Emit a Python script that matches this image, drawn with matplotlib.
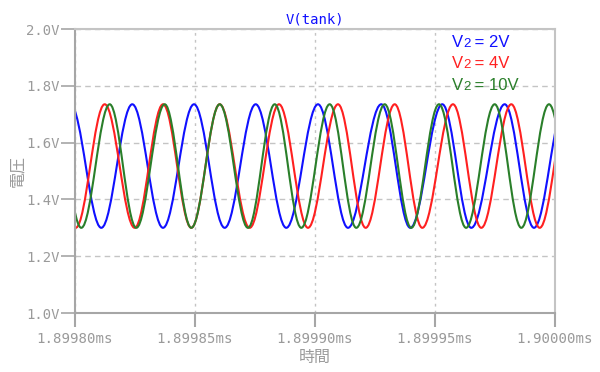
import matplotlib
matplotlib.use("Agg")
import matplotlib.pyplot as plt
from matplotlib.path import Path
from matplotlib.patches import PathPatch
from matplotlib.ticker import FuncFormatter

# time axis: ns after 1.89980 ms
T0_MS = 1.89980

# turning points (peak / trough) of each trace
t_2v = [-1.96, 10.96, 23.87, 36.67, 49.58, 62.37, 75.29, 88.04, 101.25,
        113.75, 127.62, 139.71, 153.04, 165.12, 179.04, 191.25, 204.17]
v_2v = [1.735, 1.300, 1.735, 1.300, 1.735, 1.300, 1.735, 1.300, 1.735,
        1.300, 1.735, 1.300, 1.735, 1.300, 1.735, 1.300, 1.735]

t_4v = [-11.79, 0.29, 12.37, 24.87, 36.67, 48.46, 60.29, 72.79, 85.00, 97.08,
        109.58, 121.12, 133.21, 144.71, 157.50, 169.29, 181.79, 193.62, 205.71]
v_4v = [1.735, 1.300, 1.735, 1.300, 1.735, 1.300, 1.735, 1.300, 1.735, 1.300,
        1.735, 1.300, 1.735, 1.300, 1.735, 1.300, 1.735, 1.300, 1.735]

t_10v = [-8.83, 2.62, 14.46, 25.54, 37.37, 48.46, 60.29, 72.08, 83.21, 94.29,
         106.12, 117.21, 129.04, 140.12, 151.67, 162.96, 174.87, 185.96,
         197.50, 208.96]
v_10v = [1.735, 1.300, 1.735, 1.300, 1.735, 1.300, 1.735, 1.300, 1.735, 1.300,
         1.735, 1.300, 1.735, 1.300, 1.735, 1.300, 1.735, 1.300, 1.735, 1.300]

x_ticks = [0, 50, 100, 150, 200]
y_ticks = [1.0, 1.2, 1.4, 1.6, 1.8, 2.0]

# legend pieces: "V" + small "2" + rest
lab_rest = [" = 2V", " = 4V", " = 10V"]
colors = ["#1010ff", "#ff2020", "#2a7f2a"]

GRAY = "#a6a6a6"


def wave_path(t, v):
    # smooth half-waves between turning points (bezier, flat at the extrema)
    k = 0.364
    verts = [(t[0], v[0])]
    codes = [Path.MOVETO]
    for i in range(len(t) - 1):
        dt = t[i + 1] - t[i]
        verts += [(t[i] + k * dt, v[i]), (t[i + 1] - k * dt, v[i + 1]), (t[i + 1], v[i + 1])]
        codes += [Path.CURVE4] * 3
    return Path(verts, codes)


fig = plt.figure(figsize=(6.0, 3.72), dpi=100)
ax = fig.add_axes([0.125, 0.1586, 0.8, 0.7634])

for t, v, c in zip([t_2v, t_4v, t_10v], [v_2v, v_4v, v_10v], colors):
    patch = PathPatch(wave_path(t, v), facecolor="none", edgecolor=c, lw=1.5)
    ax.add_patch(patch)

ax.set_xlim(0, 200)
ax.set_ylim(1.0, 2.0)
ax.set_xticks(x_ticks)
ax.set_yticks(y_ticks)
ax.xaxis.set_major_formatter(FuncFormatter(lambda x, p: f"{T0_MS + x * 1e-6:.5f}ms"))
ax.yaxis.set_major_formatter(FuncFormatter(lambda y, p: f"{y:.1f}V"))

ax.xaxis.grid(True, color="#c4c4c4", ls=(0, (2, 3)), lw=1.0)
ax.yaxis.grid(True, color="#c4c4c4", ls=(0, (4, 3)), lw=1.0)
ax.set_axisbelow(True)

for s in ["left", "bottom"]:
    ax.spines[s].set_color(GRAY)
    ax.spines[s].set_linewidth(1.5)
for s in ["top", "right"]:
    ax.spines[s].set_color("#c4c4c4")
    ax.spines[s].set_linewidth(1.5)

ax.tick_params(axis="x", direction="out", length=10, width=1.5, color=GRAY,
               labelcolor="#9a9a9a", labelsize=10.2, pad=4)
ax.tick_params(axis="y", direction="out", length=10, width=1.2, color=GRAY,
               labelcolor="#9a9a9a", labelsize=10, pad=1)
for lab in ax.get_xticklabels() + ax.get_yticklabels():
    lab.set_family("DejaVu Sans Mono")

cjk = ["Noto Sans CJK JP", "DejaVu Sans"]
ax.set_xlabel("時間", family=cjk, fontsize=11.5, color="#9a9a9a", labelpad=2)
ax.set_ylabel("電圧", family=cjk, fontsize=11.5, color="#9a9a9a", labelpad=0)

ax.set_title("V(tank)", family="DejaVu Sans Mono", fontsize=10, color="#1010ff", pad=4)

sans = ["Liberation Sans", "DejaVu Sans"]
for i, (rest, c) in enumerate(zip(lab_rest, colors)):
    tv = ax.text(0.785, 0.935 - 0.074 * i, "V", transform=ax.transAxes, color=c,
                 fontsize=12, family=sans, ha="left", va="baseline")
    t2 = ax.annotate("2", xy=(1, 0), xycoords=tv, color=c, fontsize=9.5,
                     family=sans, ha="left", va="bottom")
    ax.annotate(rest, xy=(1, 0), xycoords=t2, color=c, fontsize=12,
                family=sans, ha="left", va="bottom")

fig.savefig("out.png", dpi=100)
